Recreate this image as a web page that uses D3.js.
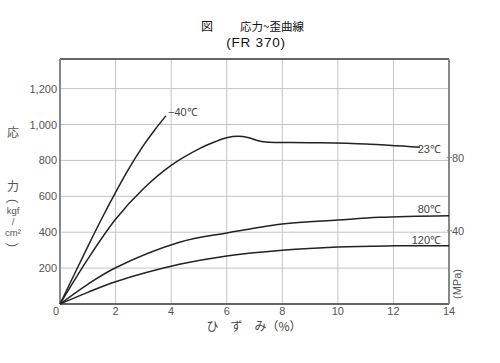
<!DOCTYPE html>
<html><head><meta charset="utf-8">
<script src="https://cdn.jsdelivr.net/npm/d3@7"></script>
<style>
body{margin:0;background:#fff;}
svg{display:block;}
text{font-family:"Noto Sans CJK JP","Noto Sans",sans-serif;}
.num{font-family:"Liberation Sans Narrow","Liberation Sans",sans-serif;}
</style></head>
<body>
<script>
// ---- data ----
const xTicks = [0, 2, 4, 6, 8, 10, 12, 14];
const yTicks = [0, 200, 400, 600, 800, 1000, 1200];
const yTickLabels = ["0", "200", "400", "600", "800", "1,000", "1,200"];
const mpaTicks = [40, 80];
const seriesNames = ["−40℃", "23℃", "80℃", "120℃"];
const strainM40 = [0, 0.5, 1, 1.5, 2, 2.5, 3, 3.4, 3.81];
const stressM40 = [0, 160, 320, 475, 622, 760, 882, 968, 1048];
const strain23 = [0, 1, 2, 3, 4, 5, 5.6, 6.0, 6.4, 6.8, 7.1, 7.4, 9, 11, 12.95];
const stress23 = [0, 250, 472, 642, 772, 864, 905, 926, 934, 926, 911, 903, 899, 891, 873];
const strain80 = [0, 1, 2, 4.3, 6, 8, 10, 11.5, 14];
const stress80 = [0, 110, 202, 344, 396, 446, 468, 483, 492];
const strain120 = [0, 1, 2, 4.3, 6, 8, 10, 12, 14];
const stress120 = [0, 65, 124, 221, 268, 300, 318, 324, 325];
const MPA_TO_KGF = 10.197;

const W = 500, H = 363;
const svg = d3.select("body").append("svg").attr("width", W).attr("height", H);
const x = d3.scaleLinear().domain([0, 14]).range([60, 449]);
const y = d3.scaleLinear().domain([0, 1365]).range([304, 59]);

// grid
const g = svg.append("g");
g.selectAll(".vg").data(xTicks.slice(1, -1)).enter().append("line")
  .attr("x1", d => x(d)).attr("x2", d => x(d)).attr("y1", y(1365)).attr("y2", y(0))
  .attr("stroke", "#c4c4c4").attr("stroke-width", 1);
g.selectAll(".hg").data(yTicks.slice(1)).enter().append("line")
  .attr("x1", x(0)).attr("x2", x(14)).attr("y1", d => y(d)).attr("y2", d => y(d))
  .attr("stroke", "#c4c4c4").attr("stroke-width", 1);

// frame
svg.append("line").attr("x1", x(0)).attr("x2", x(14)).attr("y1", y(1365)).attr("y2", y(1365)).attr("stroke", "#333").attr("stroke-width", 1.5);
svg.append("line").attr("x1", x(0)).attr("x2", x(14)).attr("y1", y(0)).attr("y2", y(0)).attr("stroke", "#333").attr("stroke-width", 1.5);
svg.append("line").attr("x1", x(0)).attr("x2", x(0)).attr("y1", y(1365)).attr("y2", y(0)).attr("stroke", "#888").attr("stroke-width", 2);
svg.append("line").attr("x1", x(14)).attr("x2", x(14)).attr("y1", y(1365)).attr("y2", y(0)).attr("stroke", "#888").attr("stroke-width", 2);

// axes labels
svg.selectAll(".yl").data(yTicks.slice(1)).enter().append("text").attr("class", "num")
  .attr("x", 57).attr("y", d => y(d) + 4).attr("text-anchor", "end")
  .attr("font-size", 11).attr("fill", "#555").text((d, i) => yTickLabels[i + 1]);
svg.selectAll(".xl").data(xTicks).enter().append("text").attr("class", "num")
  .attr("x", (d, i) => i === 0 ? x(d) - 4 : x(d)).attr("y", 315).attr("text-anchor", "middle")
  .attr("font-size", 11).attr("fill", "#555").text(d => d);

// right MPa axis
svg.selectAll(".mt").data(mpaTicks).enter().append("line")
  .attr("x1", x(14) - 2).attr("x2", x(14) + 3).attr("y1", d => y(d * MPA_TO_KGF)).attr("y2", d => y(d * MPA_TO_KGF))
  .attr("stroke", "#888").attr("stroke-width", 1);
svg.selectAll(".ml").data(mpaTicks).enter().append("text").attr("class", "num")
  .attr("x", x(14) + 3).attr("y", d => y(d * MPA_TO_KGF) + 4)
  .attr("font-size", 11).attr("fill", "#555").text(d => d);
svg.append("text").attr("class", "num").attr("transform", "translate(461,284) rotate(-90)")
  .attr("text-anchor", "middle").attr("font-size", 11).attr("fill", "#555").text("(MPa)");

// curves
const line = d3.line().x(d => x(d[0])).y(d => y(d[1])).curve(d3.curveCatmullRom.alpha(0.5));
const series = [
  [strainM40, stressM40], [strain23, stress23], [strain80, stress80], [strain120, stress120]
];
series.forEach(([sx, sy]) => {
  svg.append("path").datum(sx.map((v, i) => [v, sy[i]])).attr("d", line)
    .attr("fill", "none").attr("stroke", "#222").attr("stroke-width", 1.5);
});

// series labels
const lab = [
  {t: seriesNames[0], x: 168, y: 116, a: "start"},
  {t: seriesNames[1], x: 441, y: 153, a: "end"},
  {t: seriesNames[2], x: 441, y: 213, a: "end"},
  {t: seriesNames[3], x: 441, y: 244, a: "end"}
];
svg.selectAll(".sl").data(lab).enter().append("text").attr("class", "num")
  .attr("x", d => d.x).attr("y", d => d.y).attr("text-anchor", d => d.a)
  .attr("font-size", 11).attr("fill", "#444").text(d => d.t);

// y axis title (vertical)
svg.append("text").attr("x", 13).attr("y", 137).attr("text-anchor", "middle")
  .attr("font-size", 12).attr("fill", "#555").text("応");
svg.append("text").attr("x", 13).attr("y", 191).attr("text-anchor", "middle")
  .attr("font-size", 12).attr("fill", "#555").text("力");
const yUnit = [
  {t: "(", y: 201, r: 90, s: 12}, {t: "kgf", y: 214, r: 0, s: 9.5}, {t: "/", y: 225, r: 0, s: 9.5},
  {t: "cm²", y: 236, r: 0, s: 9.5}, {t: ")", y: 245, r: 90, s: 12}
];
svg.selectAll(".yt").data(yUnit).enter().append("text").attr("class", "num")
  .attr("transform", d => d.r ? `translate(13,${d.y}) rotate(90)` : `translate(13,${d.y})`)
  .attr("text-anchor", "middle").attr("dy", d => d.r ? "0.35em" : 0)
  .attr("font-size", d => d.s).attr("fill", "#555").text(d => d.t);

// x axis title
svg.append("text").attr("x", 254).attr("y", 331).attr("text-anchor", "middle")
  .attr("font-size", 12).attr("fill", "#444").attr("xml:space", "preserve").text("ひ　ず　み（%）");

// title
svg.append("text").attr("x", 207).attr("y", 31).attr("text-anchor", "middle")
  .attr("font-size", 12).attr("fill", "#111").text("図");
svg.append("text").attr("x", 272).attr("y", 31).attr("text-anchor", "middle")
  .attr("font-size", 11.5).attr("fill", "#111").text("応力~歪曲線");
svg.append("text").attr("class", "num").attr("x", 256).attr("y", 47).attr("text-anchor", "middle")
  .attr("font-size", 13.5).attr("letter-spacing", 0.8).attr("fill", "#111").text("(FR 370)");
</script>
</body></html>
